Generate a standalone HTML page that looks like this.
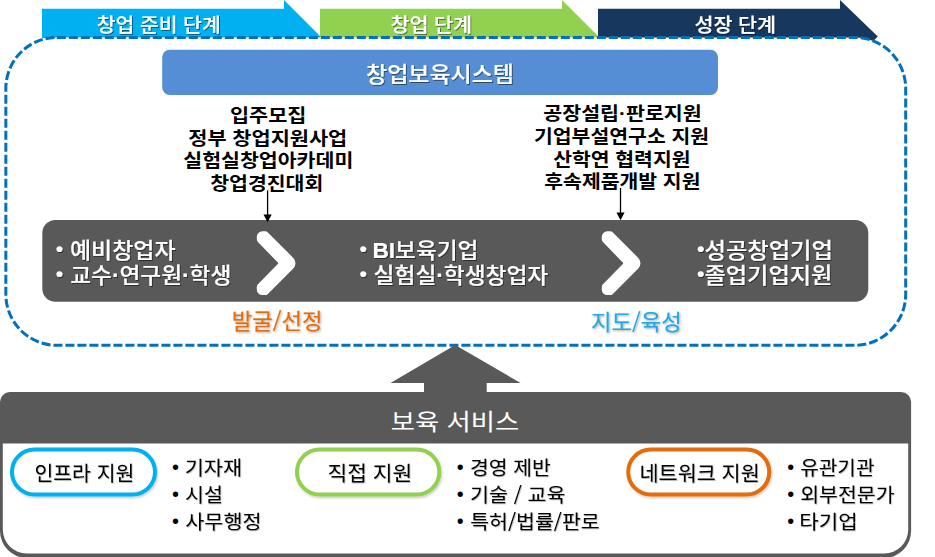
<!DOCTYPE html>
<html lang="ko">
<head>
<meta charset="utf-8">
<title>창업보육시스템</title>
<style>
html,body{margin:0;padding:0;background:#fff;}
body{width:935px;height:557px;overflow:hidden;}
svg{display:block;}
text{font-family:"Liberation Sans","Noto Sans CJK KR",sans-serif;}
.b{font-weight:bold;}
.m{font-weight:500;stroke:#fff;stroke-width:0.12px;}
.n4{font-weight:400;stroke:#e46c0a;stroke-width:0.12px;}
.n5{font-weight:400;stroke:#21a9e1;stroke-width:0.12px;}
</style>
</head>
<body>
<svg width="935" height="557" viewBox="0 0 935 557">
<defs>
<filter id="ts" x="-5%" y="-20%" width="110%" height="150%">
<feDropShadow dx="1" dy="1" stdDeviation="0.7" flood-color="#000" flood-opacity="0.5"/>
</filter>
<filter id="ts2" x="-5%" y="-20%" width="110%" height="150%">
<feDropShadow dx="1" dy="1" stdDeviation="0.8" flood-color="#000" flood-opacity="0.35"/>
</filter>
<filter id="ts3" x="-5%" y="-20%" width="110%" height="150%">
<feDropShadow dx="0.7" dy="0.9" stdDeviation="0.7" flood-color="#000" flood-opacity="0.3"/>
</filter>
<filter id="ps" x="-5%" y="-10%" width="110%" height="130%">
<feDropShadow dx="1" dy="1.5" stdDeviation="1" flood-color="#000" flood-opacity="0.22"/>
</filter>
</defs>
<rect width="935" height="557" fill="#fff"/>

<!-- stage arrows -->
<polygon points="42,8.8 284,8.8 284,0 321,37 321,38 42,38" fill="#00b0f0"/>
<polygon points="320,8.8 562,8.8 562,0 599,37 599,38 320,38" fill="#92d050"/>
<polygon points="598,8.8 840,8.800 840,0 877.800,36.600 840,74 598,74" fill="#17375e"/>

<!-- dashed container -->
<rect x="5.85" y="37.4" width="899.85" height="307.9" rx="51" ry="51" fill="#fff" stroke="#0070c0" stroke-width="3" stroke-dasharray="9,3"/>

<!-- system bar -->
<rect x="162.2" y="49.8" width="555.8" height="45.1" rx="7.5" fill="#558ed5"/>

<!-- dark bar -->
<rect x="42.3" y="220" width="826" height="81.8" rx="13" fill="#595959"/>
<!-- small arrows -->
<line x1="267.6" y1="190.3" x2="267.6" y2="215" stroke="#000" stroke-width="1.3"/>
<polygon points="263.5,214.4 271.7,214.4 267.6,222.2" fill="#000"/>
<line x1="620.5" y1="188.1" x2="620.5" y2="213" stroke="#000" stroke-width="1.3"/>
<polygon points="616.5,212.5 624.6,212.5 620.5,220.3" fill="#000"/>
<path d="M256.80,236.80 A5.5,5.5 0 0 1 262.30,231.30 L265.04,231.30 A4,4 0 0 1 267.87,232.47 L293.30,257.90 A7.5,7.5 0 0 1 293.30,268.50 L267.87,293.93 A4,4 0 0 1 265.04,295.10 L262.30,295.10 A5.5,5.5 0 0 1 256.80,289.60 L256.80,287.12 A4,4 0 0 1 257.93,284.34 L277.82,263.90 A1,1 0 0 0 277.82,262.50 L257.93,242.06 A4,4 0 0 1 256.80,239.28 Z" fill="#fff"/>
<path d="M601.80,236.80 A5.5,5.5 0 0 1 607.30,231.30 L610.04,231.30 A4,4 0 0 1 612.87,232.47 L638.30,257.90 A7.5,7.5 0 0 1 638.30,268.50 L612.87,293.93 A4,4 0 0 1 610.04,295.10 L607.30,295.10 A5.5,5.5 0 0 1 601.80,289.60 L601.80,287.12 A4,4 0 0 1 602.93,284.34 L622.82,263.90 A1,1 0 0 0 622.82,262.50 L602.93,242.06 A4,4 0 0 1 601.80,239.28 Z" fill="#fff"/>

<!-- big up arrow -->
<polygon points="455.2,345 520.6,383 486.700,383 486.700,395 424,395 424,383 390.500,383" fill="#595959"/>

<!-- service box -->
<path d="M0,402 a10,10 0 0 1 10,-10 H901.100 a10,10 0 0 1 10,10 V531 a27,27 0 0 1 -27,27 H27 a27,27 0 0 1 -27,-27 Z" fill="#595959"/>
<path d="M2.800,443.400 H908.200 V529.500 a24,24 0 0 1 -24,24 H26.800 a24,24 0 0 1 -24,-24 Z" fill="#fff"/>

<g filter="url(#ps)">
<rect x="12" y="449.500" width="143" height="45" rx="22.500" fill="#fff" stroke="#00b0f0" stroke-width="4"/>
<rect x="297" y="449.500" width="142.300" height="45" rx="22.500" fill="#fff" stroke="#92d050" stroke-width="4"/>
<rect x="628.250" y="449.500" width="141" height="45" rx="22.500" fill="#fff" stroke="#e46c0a" stroke-width="4"/>
</g>
<text id="a1" x="96.77" y="31.7" font-size="19.4" fill="#fff" textLength="123.87" lengthAdjust="spacingAndGlyphs" class="m" filter="url(#ts)">창업 준비 단계</text>
<text id="a2" x="390.46" y="31.7" font-size="19.4" fill="#fff" textLength="81.61" lengthAdjust="spacingAndGlyphs" class="m" filter="url(#ts)">창업 단계</text>
<text id="a3" x="694.46" y="31.7" font-size="19.4" fill="#fff" textLength="81.61" lengthAdjust="spacingAndGlyphs" class="m" filter="url(#ts)">성장 단계</text>
<text id="sys" x="366.02" y="81.5" font-size="21.5" fill="#fff" textLength="147.89" lengthAdjust="spacingAndGlyphs" class="m" filter="url(#ts)">창업보육시스템</text>
<text id="l1" x="229.95" y="121.5" font-size="18.5" fill="#000" textLength="76.40" lengthAdjust="spacingAndGlyphs" class="b">입주모집</text>
<text id="l2" x="188.24" y="144.5" font-size="18.5" fill="#000" textLength="159.06" lengthAdjust="spacingAndGlyphs" class="b">정부 창업지원사업</text>
<text id="l3" x="183.24" y="167.2" font-size="18.5" fill="#000" textLength="170.05" lengthAdjust="spacingAndGlyphs" class="b">실험실창업아카데미</text>
<text id="l4" x="210.23" y="189.7" font-size="18.5" fill="#000" textLength="113.08" lengthAdjust="spacingAndGlyphs" class="b">창업경진대회</text>
<text id="r1" x="543.23" y="119.8" font-size="18.5" fill="#000" textLength="158.55" lengthAdjust="spacingAndGlyphs" class="b">공장설립·판로지원</text>
<text id="r2" x="533.99" y="142.8" font-size="18.5" fill="#000" textLength="175.04" lengthAdjust="spacingAndGlyphs" class="b">기업부설연구소 지원</text>
<text id="r3" x="553.24" y="165.5" font-size="18.5" fill="#000" textLength="137.29" lengthAdjust="spacingAndGlyphs" class="b">산학연 협력지원</text>
<text id="r4" x="544.24" y="188" font-size="18.5" fill="#000" textLength="156.28" lengthAdjust="spacingAndGlyphs" class="b">후속제품개발 지원</text>
<text id="d1b" x="55.89" y="255.5" font-size="20" fill="#fff" textLength="7.46" lengthAdjust="spacingAndGlyphs" class="b" filter="url(#ts)">•</text>
<text id="d1" x="70.03" y="257.6" font-size="21.5" fill="#fff" textLength="105.48" lengthAdjust="spacingAndGlyphs" class="m" filter="url(#ts)">예비창업자</text>
<text id="d2b" x="55.89" y="280.5" font-size="20" fill="#fff" textLength="7.46" lengthAdjust="spacingAndGlyphs" class="b" filter="url(#ts)">•</text>
<text id="d2" x="70.28" y="282.7" font-size="21.5" fill="#fff" textLength="161.02" lengthAdjust="spacingAndGlyphs" class="m" filter="url(#ts)">교수<tspan font-weight="bold">·</tspan>연구원<tspan font-weight="bold">·</tspan>학생</text>
<text id="d3b" x="359.58" y="255.5" font-size="20" fill="#fff" textLength="7.46" lengthAdjust="spacingAndGlyphs" class="b" filter="url(#ts)">•</text>
<text id="d3" x="372.43" y="257.6" font-size="21.5" fill="#fff" textLength="105.93" lengthAdjust="spacingAndGlyphs" class="m" filter="url(#ts)"><tspan font-weight="bold">BI</tspan>보육기업</text>
<text id="d4b" x="359.58" y="280.5" font-size="20" fill="#fff" textLength="7.46" lengthAdjust="spacingAndGlyphs" class="b" filter="url(#ts)">•</text>
<text id="d4" x="373.64" y="282.7" font-size="21.5" fill="#fff" textLength="174.61" lengthAdjust="spacingAndGlyphs" class="m" filter="url(#ts)">실험실<tspan font-weight="bold">·</tspan>학생창업자</text>
<text id="d5b" x="696.97" y="255.5" font-size="20" fill="#fff" textLength="7.49" lengthAdjust="spacingAndGlyphs" class="b" filter="url(#ts)">•</text>
<text id="d5" x="704.52" y="257.6" font-size="21.5" fill="#fff" textLength="128.30" lengthAdjust="spacingAndGlyphs" class="m" filter="url(#ts)">성공창업기업</text>
<text id="d6b" x="696.97" y="280.5" font-size="20" fill="#fff" textLength="7.49" lengthAdjust="spacingAndGlyphs" class="b" filter="url(#ts)">•</text>
<text id="d6" x="704.53" y="282.7" font-size="21.5" fill="#fff" textLength="127.77" lengthAdjust="spacingAndGlyphs" class="m" filter="url(#ts)">졸업기업지원</text>
<text id="o1" x="231.70" y="329" font-size="21.2" fill="#e46c0a" textLength="90.90" lengthAdjust="spacingAndGlyphs" class="n4" filter="url(#ts2)">발굴<tspan font-family="Noto Sans CJK KR">/</tspan>선정</text>
<text id="o2" x="591.03" y="329.8" font-size="21.2" fill="#21a9e1" textLength="90.63" lengthAdjust="spacingAndGlyphs" class="n5" filter="url(#ts2)">지도<tspan font-family="Noto Sans CJK KR">/</tspan>육성</text>
<text id="svc" x="390.72" y="429.5" font-size="23" fill="#fff" textLength="128.55" lengthAdjust="spacingAndGlyphs">보육 서비스</text>
<text id="p1" x="34.44" y="480.7" font-size="20.8" fill="#000" textLength="99.90" lengthAdjust="spacingAndGlyphs" filter="url(#ts3)">인프라 지원</text>
<text id="p2" x="327.44" y="480.7" font-size="20.8" fill="#000" textLength="84.91" lengthAdjust="spacingAndGlyphs" filter="url(#ts3)">직접 지원</text>
<text id="p3" x="639.44" y="480.7" font-size="20.8" fill="#000" textLength="120.39" lengthAdjust="spacingAndGlyphs" filter="url(#ts3)">네트워크 지원</text>
<text id="c00b" x="172.05" y="474" font-size="20" fill="#000" textLength="6.98" lengthAdjust="spacingAndGlyphs">•</text>
<text id="c00" x="184.67" y="475" font-size="19.5" fill="#000" textLength="57.66" lengthAdjust="spacingAndGlyphs" filter="url(#ts3)">기자재</text>
<text id="c01b" x="172.05" y="501.2" font-size="20" fill="#000" textLength="6.98" lengthAdjust="spacingAndGlyphs">•</text>
<text id="c01" x="184.91" y="502.2" font-size="19.5" fill="#000" textLength="37.98" lengthAdjust="spacingAndGlyphs" filter="url(#ts3)">시설</text>
<text id="c02b" x="172.05" y="528.2" font-size="20" fill="#000" textLength="6.98" lengthAdjust="spacingAndGlyphs">•</text>
<text id="c02" x="185.22" y="529.2" font-size="19.5" fill="#000" textLength="76.40" lengthAdjust="spacingAndGlyphs" filter="url(#ts3)">사무행정</text>
<text id="c10b" x="456.79" y="474" font-size="20" fill="#000" textLength="6.92" lengthAdjust="spacingAndGlyphs">•</text>
<text id="c10" x="469.91" y="475" font-size="19.5" fill="#000" textLength="80.85" lengthAdjust="spacingAndGlyphs" filter="url(#ts3)">경영 제반</text>
<text id="c11b" x="456.79" y="501.2" font-size="20" fill="#000" textLength="6.92" lengthAdjust="spacingAndGlyphs">•</text>
<text id="c11" x="469.92" y="502.2" font-size="19.5" fill="#000" textLength="95.62" lengthAdjust="spacingAndGlyphs" filter="url(#ts3)">기술 <tspan font-family="Noto Sans CJK KR">/</tspan> 교육</text>
<text id="c12b" x="456.79" y="528.2" font-size="20" fill="#000" textLength="6.92" lengthAdjust="spacingAndGlyphs">•</text>
<text id="c12" x="470.18" y="529.2" font-size="19.5" fill="#000" textLength="129.58" lengthAdjust="spacingAndGlyphs" filter="url(#ts3)">특허<tspan font-family="Noto Sans CJK KR">/</tspan>법률<tspan font-family="Noto Sans CJK KR">/</tspan>판로</text>
<text id="c20b" x="787.29" y="474" font-size="20" fill="#000" textLength="6.92" lengthAdjust="spacingAndGlyphs">•</text>
<text id="c20" x="800.17" y="475" font-size="19.5" fill="#000" textLength="74.35" lengthAdjust="spacingAndGlyphs" filter="url(#ts3)">유관기관</text>
<text id="c21b" x="787.29" y="501.2" font-size="20" fill="#000" textLength="6.92" lengthAdjust="spacingAndGlyphs">•</text>
<text id="c21" x="800.18" y="502.2" font-size="19.5" fill="#000" textLength="94.33" lengthAdjust="spacingAndGlyphs" filter="url(#ts3)">외부전문가</text>
<text id="c22b" x="787.29" y="528.2" font-size="20" fill="#000" textLength="6.92" lengthAdjust="spacingAndGlyphs">•</text>
<text id="c22" x="799.29" y="529.2" font-size="19.5" fill="#000" textLength="58.42" lengthAdjust="spacingAndGlyphs" filter="url(#ts3)">타기업</text>
</svg>
</body>
</html>
